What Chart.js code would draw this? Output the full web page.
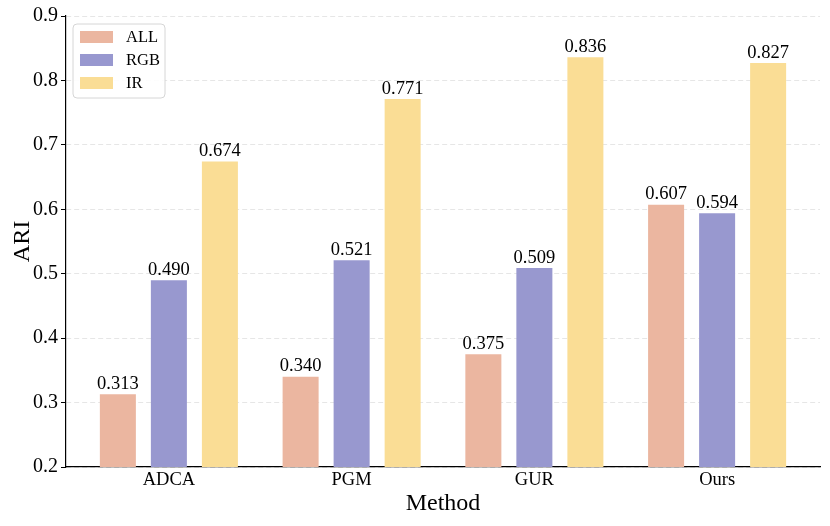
<!DOCTYPE html>
<html>
<head>
<meta charset="utf-8">
<script src="https://cdn.jsdelivr.net/npm/chart.js@4"></script>
<style>
    html, body { margin: 0; padding: 0; background: #fff; }
    #wrap { width: 830px; height: 526px; }
</style>
</head>
<body>
<div id="wrap"><canvas id="ariChart"></canvas></div>
<script>
// Datos del gráfico
const methods = ['ADCA', 'PGM', 'GUR', 'Ours'];
const seriesNames = ['ALL', 'RGB', 'IR'];
const allValues = [0.313, 0.340, 0.375, 0.607];
const rgbValues = [0.490, 0.521, 0.509, 0.594];
const irValues = [0.674, 0.771, 0.836, 0.827];
const yTicks = [0.2, 0.3, 0.4, 0.5, 0.6, 0.7, 0.8, 0.9];

const colors = ['#ebb6a0', '#9898cf', '#fadd95'];
const serif = '"Liberation Serif", "DejaVu Serif", serif';

function toPoints(values) {
    return values.map((v, i) => ({ x: i, y: v }));
}

// Etiquetas de valor encima de cada barra
const valueLabels = {
    id: 'valueLabels',
    afterDatasetsDraw(chart) {
        const ctx = chart.ctx;
        ctx.save();
        ctx.font = '18.5px ' + serif;
        ctx.fillStyle = '#000';
        ctx.textAlign = 'center';
        ctx.textBaseline = 'bottom';
        chart.data.datasets.forEach((ds, di) => {
            chart.getDatasetMeta(di).data.forEach((bar, i) => {
                ctx.fillText(ds.data[i].y.toFixed(3), bar.x, bar.y - 1);
            });
        });
        ctx.restore();
    }
};

// Leyenda dentro del área del gráfico
const innerLegend = {
    id: 'innerLegend',
    afterDraw(chart) {
        const ctx = chart.ctx;
        const area = chart.chartArea;
        const x0 = area.left + 7, y0 = area.top + 8;
        const w = 92, h = 74;
        ctx.save();
        ctx.beginPath();
        ctx.roundRect(x0, y0, w, h, 4);
        ctx.fillStyle = 'rgba(255,255,255,0.9)';
        ctx.fill();
        ctx.strokeStyle = '#d6d6d6';
        ctx.lineWidth = 1;
        ctx.stroke();
        ctx.font = '16.5px ' + serif;
        ctx.textBaseline = 'middle';
        chart.data.datasets.forEach((ds, i) => {
            const cy = y0 + 13 + i * 23;
            ctx.fillStyle = ds.backgroundColor;
            ctx.fillRect(x0 + 7, cy - 6, 33, 12);
            ctx.fillStyle = '#000';
            ctx.fillText(ds.label, x0 + 53, cy + 1);
        });
        ctx.restore();
    }
};

const ctx = document.getElementById('ariChart').getContext('2d');
const ariChart = new Chart(ctx, {
    type: 'bar',
    data: {
        datasets: [
            { label: seriesNames[0], data: toPoints(allValues), backgroundColor: colors[0] },
            { label: seriesNames[1], data: toPoints(rgbValues), backgroundColor: colors[1] },
            { label: seriesNames[2], data: toPoints(irValues), backgroundColor: colors[2] }
        ]
    },
    plugins: [valueLabels, innerLegend],
    options: {
        responsive: true,
        maintainAspectRatio: false,
        animation: false,
        devicePixelRatio: 1,
        categoryPercentage: 0.8375,
        barPercentage: 0.706,
        layout: { padding: { left: 0, right: 10, top: 16, bottom: 0 } },
        plugins: {
            legend: { display: false },
            tooltip: { enabled: false }
        },
        scales: {
            x: {
                type: 'linear',
                offset: false,
                min: -0.563,
                max: 3.563,
                afterBuildTicks(scale) {
                    scale.ticks = methods.map((m, i) => ({ value: i }));
                },
                afterFit(scale) { scale.height = 59; },
                ticks: {
                    callback: (v) => methods[v] || '',
                    color: '#000',
                    font: { family: serif, size: 18.5 },
                    padding: 2,
                    maxRotation: 0
                },
                grid: { display: false, drawTicks: false, offset: false },
                border: { display: true, color: '#000', width: 1.2 },
                title: {
                    display: true,
                    text: 'Method',
                    color: '#000',
                    font: { family: serif, size: 24 },
                    padding: { top: 4, bottom: 8 }
                }
            },
            y: {
                min: 0.2,
                max: 0.9,
                afterBuildTicks(scale) {
                    scale.ticks = yTicks.map(v => ({ value: v }));
                },
                afterFit(scale) { scale.width = 66; },
                ticks: {
                    callback: (v) => v.toFixed(1),
                    color: '#000',
                    font: { family: serif, size: 20 },
                    padding: 3
                },
                grid: {
                    color: '#e6e6e6',
                    lineWidth: 1,
                    tickLength: 5,
                    tickColor: '#000',
                    tickWidth: 1
                },
                border: { display: true, color: '#000', width: 1.2, dash: [5, 3] },
                title: {
                    display: true,
                    text: 'ARI',
                    color: '#000',
                    font: { family: serif, size: 24 },
                    padding: { top: 8, bottom: 4 }
                }
            }
        }
    }
});
</script>
</body>
</html>
